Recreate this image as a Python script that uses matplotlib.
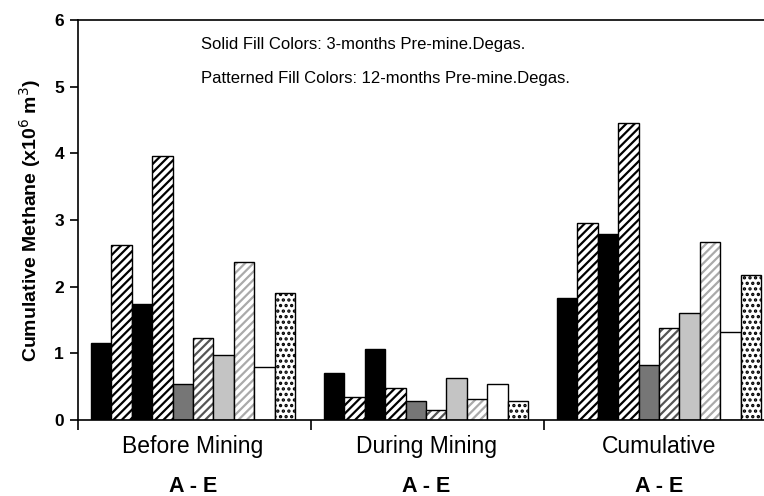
import matplotlib.pyplot as plt
import numpy as np

plt.rcParams['font.family'] = ['Liberation Sans', 'DejaVu Sans']
plt.rcParams['hatch.linewidth'] = 1.6

groups = ['Before Mining', 'During Mining', 'Cumulative']
sub_label = 'A - E'

# ten bars per group: solid (3-month) and patterned (12-month) pairs
before_mining = [1.15, 2.62, 1.74, 3.96, 0.54, 1.23, 0.98, 2.37, 0.79, 1.90]
during_mining = [0.70, 0.34, 1.07, 0.48, 0.28, 0.15, 0.63, 0.32, 0.54, 0.28]
cumulative = [1.83, 2.95, 2.79, 4.46, 0.82, 1.38, 1.61, 2.67, 1.32, 2.18]

# fill, hatch, hatch colour for each bar
fills = ['black', 'white', 'black', 'white', '#767676', 'white', '#c4c4c4', 'white', 'white', 'white']
hatches = [None, '////', None, '////', None, '////', None, '////', None, '...']
hatch_cols = [None, 'black', None, 'black', None, '#555555', None, '#aaaaaa', None, 'black']

fig = plt.figure(figsize=(7.64, 4.96), dpi=100)
ax = fig.add_axes([78 / 764, 1 - 420 / 496, 1 - 78 / 764, 400 / 496])

spacing = 11.42
first = 0.64
for g, vals in enumerate([before_mining, during_mining, cumulative]):
    for i, v in enumerate(vals):
        x = first + g * spacing + i
        if hatches[i]:
            ax.bar(x, v, width=1, align='edge', color=fills[i], hatch=hatches[i],
                   edgecolor=hatch_cols[i], linewidth=0)
            ax.bar(x, v, width=1, align='edge', fill=False, edgecolor='black', linewidth=1)
        else:
            ax.bar(x, v, width=1, align='edge', color=fills[i], edgecolor='black', linewidth=1)

ax.set_xlim(0, 686 / 20.4)
ax.set_ylim(0, 6)
ax.spines['right'].set_visible(False)
for s in ['left', 'bottom', 'top']:
    ax.spines[s].set_linewidth(1.2)

ax.set_yticks(range(7))
ax.set_yticklabels([str(i) for i in range(7)], fontsize=12.5, fontweight='bold')
ax.tick_params(axis='y', direction='out', length=6, width=1.2, pad=4)

ax.set_xticks([0, spacing, 2 * spacing])
ax.set_xticklabels([])
ax.tick_params(axis='x', which='major', direction='out', length=7, width=1.2)
centers = [first + g * spacing + 5 for g in range(3)]
ax.set_xticks(centers, minor=True)
ax.set_xticklabels(groups, minor=True, fontsize=16.5)
ax.tick_params(axis='x', which='minor', length=0, pad=11)
for c in centers:
    ax.text(c, -0.167, sub_label, transform=ax.get_xaxis_transform(), ha='center', va='center',
            fontsize=15.5, fontweight='bold')

ax.set_ylabel('Cumulative Methane (x10$^6$ m$^3$)', fontsize=14, fontweight='bold', labelpad=8)

ax.text(0.18, 0.94, 'Solid Fill Colors: 3-months Pre-mine.Degas.', transform=ax.transAxes,
        fontsize=12, va='center')
ax.text(0.18, 0.853, 'Patterned Fill Colors: 12-months Pre-mine.Degas.', transform=ax.transAxes,
        fontsize=12, va='center')

fig.savefig('out.png', dpi=100)
